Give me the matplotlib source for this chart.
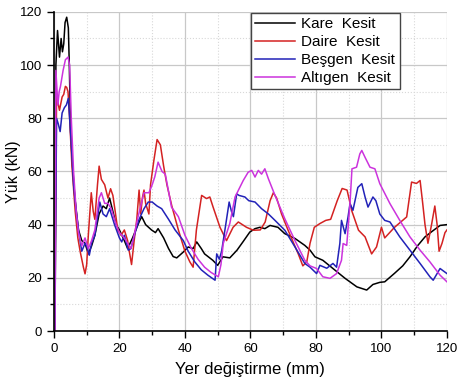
import numpy as np
import matplotlib
matplotlib.use("Agg")
import matplotlib.pyplot as plt
from matplotlib.ticker import MultipleLocator

plt.rcParams['font.family'] = ['Liberation Sans', 'DejaVu Sans']

# Kare Kesit (black)
kare_x = [0, 0.3, 0.6, 1.1, 1.7, 2.2, 2.6, 3.0, 3.4, 3.9, 4.4, 4.7, 5.1, 5.7, 6.4, 7.5, 8.5, 9.5,
          10.5, 11.5, 12.5, 13.8, 15, 16, 17, 18, 19, 20, 21.5, 22.5, 24, 25, 26, 26.8, 28, 29.8,
          31, 31.8, 33.5, 35, 36.4, 37.5, 39.5, 41, 42.5, 43.6, 45, 46, 48.5, 50, 51.6, 53.7, 55.9,
          57.7, 59.8, 61.4, 62.9, 64.4, 66, 68.4, 70.5, 73.6, 76.6, 78.2, 79.7, 82.1, 85.2, 88.9,
          92.5, 95.5, 97.4, 99.5, 101, 104, 106.5, 108.7, 111, 113.3, 115.5, 117.9, 120]
kare_y = [0, 0, 100, 113, 103, 110, 105, 108, 116, 118, 114, 100, 75, 62, 50, 38, 34, 33,
          29, 32, 36, 44, 47, 46, 50, 45, 40, 38, 34, 31, 35, 38, 41, 43, 40, 38,
          37, 38.5, 35, 31, 28, 27.5, 29.7, 31.6, 31, 33.5, 31, 29, 26.6, 24.7, 27.9, 27.5, 30.4,
          33.5, 37.2, 38.5, 39, 38.5, 39.7, 39, 36.6, 34.8, 32.2, 30.4, 27.9, 26.6, 23.5, 19.8,
          16.6, 15.4, 17.5, 18.3, 18.5, 21.7, 24.5, 27.9, 32, 35.4, 37.5, 39.7, 40]

# Daire Kesit (red)
daire_x = [0, 0.3, 0.8, 1.2, 1.7, 2.5, 3.0, 3.5, 3.9, 4.3, 4.8, 5.5, 6.5, 7.3, 8, 9, 9.5, 10,
           10.5, 11, 11.4, 12, 12.5, 13.3, 13.8, 14.5, 15.5, 16.5, 17.3, 18, 18.7, 19.5, 20.5,
           21.5, 22.5, 23, 23.7, 24.5, 25.3, 26, 26.5, 27, 27.5, 28, 29, 29.5, 30.5, 31.5, 32.5,
           33.5, 34.5, 36, 38, 40, 41.5, 42.5, 43.5, 45.1, 46.6, 47.6, 48.6, 50.7, 52.7, 54.7,
           56.3, 58.8, 60.9, 63, 64.5, 66, 67, 68, 69.5, 71.5, 74.6, 76, 77.2, 78.2, 79.5, 81.2,
           83, 84.5, 86.5, 88, 89.5, 91, 93, 95, 97, 98.5, 100, 101, 104, 107.7, 109.2, 110.7,
           111.8, 112.6, 113.3, 114.2, 115.3, 116.3, 117, 117.6, 118.5, 119.4, 120]
daire_y = [0, 0, 88, 86, 83, 88, 89, 92, 91.6, 90, 80, 62, 45, 35, 30, 24, 21.5, 25,
           36, 45, 52, 45, 42, 55, 62, 57, 55, 50, 53.5, 51, 45, 38, 36,
           38, 34, 30, 25, 34, 42, 53, 44, 50, 53, 48, 44, 55, 64, 72, 70,
           62, 55, 47, 38, 30, 26, 24, 38, 51, 49.8, 50.4, 46.6, 39, 34, 39,
           41, 39, 37.9, 38, 41, 49, 52, 50, 44, 37.9, 29, 24.5, 26, 33, 39, 40.4,
           41.6, 42, 49, 53.6, 53, 45, 37.9, 35.4, 29, 31.6, 39, 35, 39, 42.9, 56, 55.5,
           56.6, 48, 40, 33, 40, 47, 40, 30, 33, 37, 38]

# Besgen Kesit (blue)
besgen_x = [0, 0.3, 0.8, 1.3, 1.9, 2.5, 3.2, 3.8, 4.4, 4.8, 5.3, 6.0, 6.8, 7.5, 8.5, 9.5, 10,
            10.8, 11.5, 12.5, 14, 15, 16, 17, 18.5, 20, 20.7, 21.5, 22.7, 23.5, 24.7, 26, 27.5,
            28.8, 30, 31.5, 32.9, 35, 37, 39.5, 41, 43, 45, 47, 49.2, 49.7, 50.5, 51.2, 52.2,
            53.5, 54.2, 54.8, 55.8, 56.5, 58.3, 59.5, 61.4, 63.4, 65.5, 67.5, 70.5, 73.6, 76.6,
            78.2, 80.2, 81.2, 83.3, 85.2, 86.3, 87.3, 87.8, 88.9, 89.8, 90.4, 91.3, 92.8, 94, 95,
            95.9, 97.4, 98.3, 99.5, 101, 102.6, 105.6, 108.7, 111.8, 114.8, 115.8, 117.9, 120]
besgen_y = [0, 0, 80, 78, 75, 82, 84, 85, 87.5, 80, 70, 55, 45, 38, 30, 33, 32,
            28.5, 33, 36, 48.5, 44, 43, 46, 40, 35, 33.5, 36, 30.4, 31, 36.6, 42, 46,
            48.5, 48.5, 47, 46, 42, 38, 34, 30, 26, 23, 21, 19.1, 29, 27, 30, 37.9,
            48.5, 45, 43, 51.6, 51, 50.4, 49, 48.5, 46, 44, 41.6, 37.9, 31.6, 25.4,
            24, 21.6, 24.7, 23.6, 25.4, 24, 32.9, 41.6, 36.6, 42.9, 47.9, 45.4, 54, 55.4, 50.4,
            46.6, 50.4, 49, 44, 41.6, 41, 35.4, 30.4, 25.4, 20.4, 19.1, 23.5, 21.6]

# Altigen Kesit (magenta)
altigen_x = [0, 0.3, 0.6, 1.2, 1.6, 2.0, 2.8, 3.5, 4.3, 4.8, 5.3, 6.0, 6.8, 7.5, 8.5, 9.5,
             10.5, 11.5, 12.5, 13.8, 14.5, 15.5, 16.5, 17.5, 19, 20, 21.5, 22.5, 23.5, 24.5,
             25.5, 26.5, 27.5, 29, 30, 30.8, 31.8, 33, 34, 35.9, 38, 40, 42, 44, 46, 48, 50.2,
             51, 51.7, 53.7, 55.3, 57.8, 59.3, 60.4, 61.4, 62.4, 63.4, 64.4, 65.5, 67.5, 70.5,
             73.6, 76.6, 78.2, 80.2, 82.1, 84.3, 86.3, 87.8, 88.3, 89.4, 90.4, 91, 92.4, 93.4,
             94, 95, 96.5, 98, 99.5, 102.6, 105.6, 108.7, 111.8, 114.8, 117.9, 120]
altigen_y = [0, 0, 98, 85, 90, 92, 98, 102, 103, 100, 80, 60, 45, 37, 32, 35,
             31, 34, 38, 50, 52, 48, 48, 46, 40, 37, 35, 33, 31, 36,
             42, 47, 52, 52, 55, 58, 63.5, 60, 59, 46.6, 43, 36, 31, 27, 24, 22, 20.4,
             25, 32.9, 40.4, 50.4, 56.6, 59.7, 60.4, 57.9, 60.4, 59, 61, 57.2, 51, 42.2,
             34, 26.6, 24.5, 23.5, 20.4, 19.8, 21.6, 26.6, 32.9, 32.2, 48, 61, 61.6, 66.6,
             67.9, 65.3, 61.6, 61, 55.4, 47.9, 41.6, 35.4, 30.4, 26, 21, 18.5]

fig = plt.figure(figsize=(4.57, 3.84), dpi=100)
ax = fig.add_axes([0.118, 0.138, 0.860, 0.831])

ax.plot(kare_x, kare_y, color='black', lw=1.1, label='Kare  Kesit')
ax.plot(daire_x, daire_y, color='#d42222', lw=1.1, label='Daire  Kesit')
ax.plot(besgen_x, besgen_y, color='#2222b8', lw=1.1, label='Beşgen  Kesit')
ax.plot(altigen_x, altigen_y, color='#cc33dd', lw=1.1, label='Altıgen  Kesit')

ax.set_xlim(0, 120)
ax.set_ylim(0, 120)
ax.xaxis.set_major_locator(MultipleLocator(20))
ax.xaxis.set_minor_locator(MultipleLocator(10))
ax.yaxis.set_major_locator(MultipleLocator(20))
ax.yaxis.set_minor_locator(MultipleLocator(10))

ax.grid(which='major', color='#c8c8c8', lw=0.9)
ax.grid(which='minor', color='#d8d8d8', lw=0.8, ls=':')
ax.set_axisbelow(True)

for s in ['top', 'right']:
    ax.spines[s].set_visible(False)
for s in ['left', 'bottom']:
    ax.spines[s].set_linewidth(1.2)

ax.tick_params(which='major', direction='out', length=5, width=1, labelsize=9.5)
ax.tick_params(which='minor', direction='out', length=3, width=1)

ax.set_xlabel('Yer değiştirme (mm)', fontsize=12, labelpad=5)
ax.set_ylabel('Yük (kN)', fontsize=11.5)
ax.yaxis.set_label_coords(-0.085, 0.5)

leg = ax.legend(loc='upper left', bbox_to_anchor=(0.501, 0.997), borderaxespad=0,
                fontsize=11, handlelength=2.6, labelspacing=0.25, fancybox=False,
                framealpha=1, edgecolor='#444444', borderpad=0.3, handletextpad=0.4)
leg.get_frame().set_linewidth(1.0)

plt.savefig('out.png', dpi=100)
